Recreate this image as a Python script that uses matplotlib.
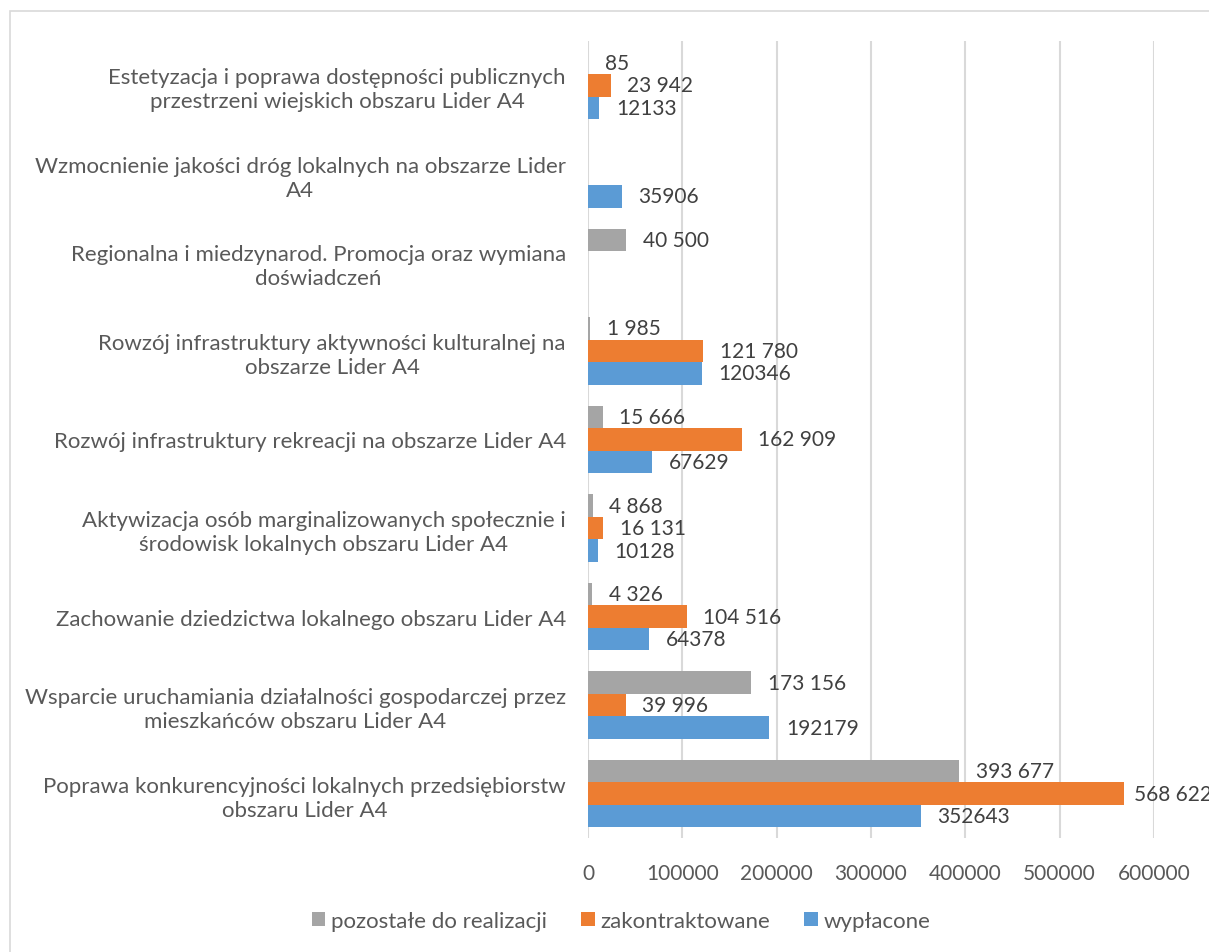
import numpy as np
import matplotlib.pyplot as plt
from matplotlib.patches import Rectangle

plt.rcParams['font.family'] = ['Lato', 'DejaVu Sans']

# categories listed bottom -> top (Excel order)
categories = [
    "Poprawa konkurencyjności lokalnych przedsiębiorstw\nobszaru Lider A4",
    "Wsparcie uruchamiania działalności gospodarczej przez\nmieszkańców obszaru Lider A4",
    "Zachowanie dziedzictwa lokalnego obszaru Lider A4",
    "Aktywizacja osób marginalizowanych społecznie i\nśrodowisk lokalnych obszaru Lider A4",
    "Rozwój infrastruktury rekreacji na obszarze Lider A4",
    "Rowzój infrastruktury aktywności kulturalnej na\nobszarze Lider A4",
    "Regionalna i miedzynarod. Promocja oraz wymiana\ndoświadczeń",
    "Wzmocnienie jakości dróg lokalnych na obszarze Lider\nA4",
    "Estetyzacja i poprawa dostępności publicznych\nprzestrzeni wiejskich obszaru Lider A4",
]

wyplacone = [352643, 192179, 64378, 10128, 67629, 120346, np.nan, 35906, 12133]
zakontraktowane = [568622, 39996, 104516, 16131, 162909, 121780, np.nan, np.nan, 23942]
pozostale = [393677, 173156, 4326, 4868, 15666, 1985, 40500, np.nan, 85]

series_names = ["wypłacone", "zakontraktowane", "pozostałe do realizacji"]
colors = ["#5B9BD5", "#ED7D31", "#A5A5A5"]

fig = plt.figure(figsize=(12.09, 9.53), dpi=100)
ax = fig.add_axes([588 / 1209, 1 - 839 / 953, 566 / 1209, 797 / 953])

y = np.arange(len(categories))
h = 0.254
bars = []
for k, (vals, name, col) in enumerate(zip([wyplacone, zakontraktowane, pozostale],
                                          series_names, colors)):
    pos = y + (k - 1) * h
    b = ax.barh(pos, vals, height=h, color=col, label=name, zorder=2)
    bars.append(b)
    for yy, v in zip(pos, vals):
        if np.isnan(v):
            continue
        v = int(v)
        txt = str(v) if k == 0 else f"{v:,}".replace(",", " ")
        # label near the right edge is pulled in a little, like Excel does
        off = 7 if v > 550000 else 12
        ax.annotate(txt, (v, yy), xytext=(off, 0), textcoords='offset points',
                    ha='left', va='center', fontsize=15, color='#404040',
                    annotation_clip=False)

ax.set_xlim(0, 600000)
ax.set_ylim(-0.5, len(categories) - 0.5)
ax.set_xticks(np.arange(0, 600001, 100000))
ax.set_xticklabels([str(v) for v in range(0, 600001, 100000)])
ax.set_yticks(y)
ax.set_yticklabels(categories)
for t in ax.get_yticklabels():
    t.set_multialignment('center')
    t.set_linespacing(1.25)
ax.tick_params(axis='y', length=0, pad=16, labelsize=16, labelcolor='#595959')
ax.tick_params(axis='x', length=0, pad=18, labelsize=15, labelcolor='#595959')
ax.grid(axis='x', color='#D9D9D9', linewidth=1.5, zorder=0)
for s in ax.spines.values():
    s.set_visible(False)

handles = [bars[2], bars[1], bars[0]]
fig.legend(handles, [series_names[2], series_names[1], series_names[0]],
           loc='center', bbox_to_anchor=(621 / 1209, 1 - 922 / 953), ncol=3,
           frameon=False, fontsize=16, labelcolor='#595959',
           handlelength=0.6, handleheight=0.6, handletextpad=0.25,
           columnspacing=1.55)

fig.patches.append(Rectangle((10 / 1209, -0.1), 1.2, 0.1 + 1 - 12 / 953,
                             transform=fig.transFigure, fill=False,
                             edgecolor='#D9D9D9', linewidth=1.2))

fig.savefig("out.png", dpi=100)
